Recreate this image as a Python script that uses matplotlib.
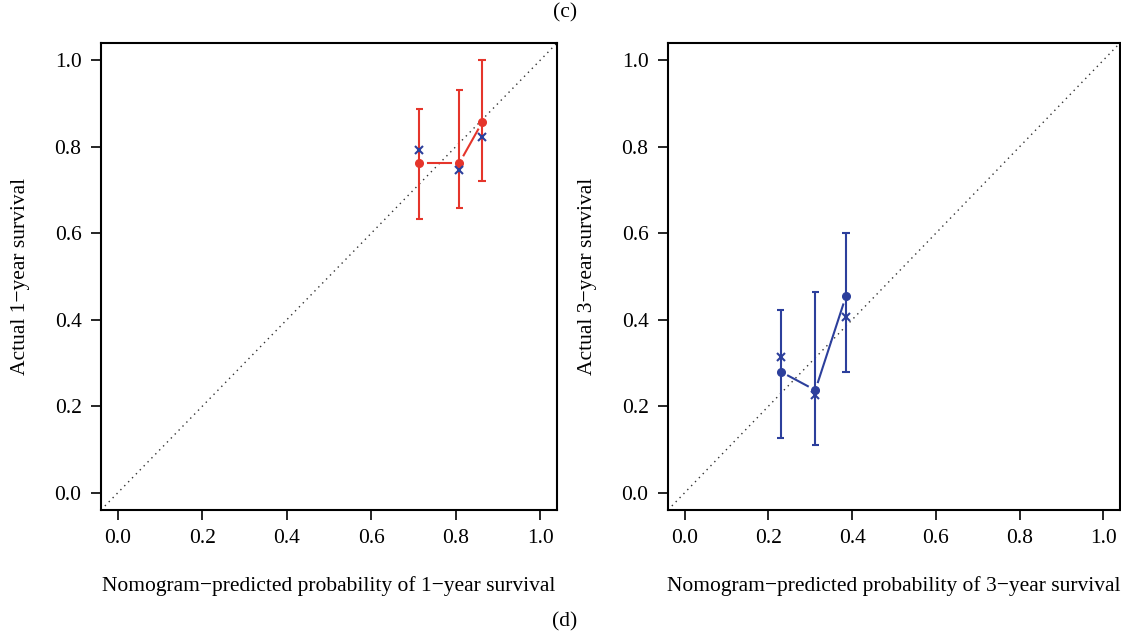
import matplotlib
matplotlib.use("Agg")
import matplotlib.pyplot as plt
import numpy as np

plt.rcParams['font.family'] = ['Liberation Serif', 'DejaVu Serif']

# ---- data ----
pred_1y = [0.714, 0.809, 0.863]
obs_1y = [0.763, 0.763, 0.857]
lo_1y = [0.634, 0.659, 0.720]
hi_1y = [0.887, 0.932, 1.000]
km_1y = [0.793, 0.747, 0.822]

pred_3y = [0.229, 0.312, 0.385]
obs_3y = [0.280, 0.237, 0.454]
lo_3y = [0.126, 0.111, 0.278]
hi_3y = [0.423, 0.464, 0.600]
km_3y = [0.314, 0.226, 0.406]

ticks = [0.0, 0.2, 0.4, 0.6, 0.8, 1.0]
tick_labels = ["0.0", "0.2", "0.4", "0.6", "0.8", "1.0"]

RED = "#e5352b"
BLUE = "#2c3f9c"

fig = plt.figure(figsize=(11.21, 6.35), dpi=100)

def panel(rect, pred, obs, lo, hi, km, color, xlabel, ylabel):
    ax = fig.add_axes(rect)
    ax.set_xlim(-0.04, 1.04)
    ax.set_ylim(-0.04, 1.04)
    ax.plot([-0.04, 1.04], [-0.04, 1.04], linestyle=(0, (1, 3)), color="#333333", lw=1.0)
    pred = np.asarray(pred); obs = np.asarray(obs)
    ax.vlines(pred, lo, hi, color=color, lw=1.5)
    ax.hlines(lo, pred - 0.009, pred + 0.009, color=color, lw=1.5)
    ax.hlines(hi, pred - 0.009, pred + 0.009, color=color, lw=1.5)
    ax.plot(pred, obs, 'o', color=color, ms=5.5)
    ax.plot(pred, km, 'x', color=BLUE, ms=6, mew=1.5)
    # type="b" lines with gaps around points
    fig.canvas.draw()
    disp = ax.transData.transform(np.column_stack([pred, obs]))
    gap = 8.5
    for i in range(len(pred) - 1):
        p0, p1 = disp[i], disp[i + 1]
        d = p1 - p0
        L = np.hypot(*d)
        if L > 2 * gap:
            u = d / L
            a = ax.transData.inverted().transform([p0 + u * gap, p1 - u * gap])
            ax.plot(a[:, 0], a[:, 1], color=color, lw=1.5)
    ax.set_xticks(ticks)
    ax.set_xticklabels(tick_labels)
    ax.set_yticks(ticks)
    ax.set_yticklabels(tick_labels)
    ax.tick_params(direction='out', length=7, width=1.2, labelsize=15.5, pad=7)
    for s in ax.spines.values():
        s.set_linewidth(1.5)
    ax.set_xlabel(xlabel, fontsize=15.5, labelpad=20)
    ax.set_ylabel(ylabel, fontsize=15.5, labelpad=18)
    return ax

panel([0.0901, 0.1969, 0.4068, 0.7354], pred_1y, obs_1y, lo_1y, hi_1y, km_1y, RED,
      "Nomogram\u2212predicted probability of 1\u2212year survival",
      "Actual 1\u2212year survival")
panel([0.5959, 0.1969, 0.4032, 0.7354], pred_3y, obs_3y, lo_3y, hi_3y, km_3y, BLUE,
      "Nomogram\u2212predicted probability of 3\u2212year survival",
      "Actual 3\u2212year survival")

fig.text(0.504, 0.98, "(c)", ha='center', va='center', fontsize=15.5)
fig.text(0.504, 0.021, "(d)", ha='center', va='center', fontsize=15.5)

fig.savefig("out.png", dpi=100)
